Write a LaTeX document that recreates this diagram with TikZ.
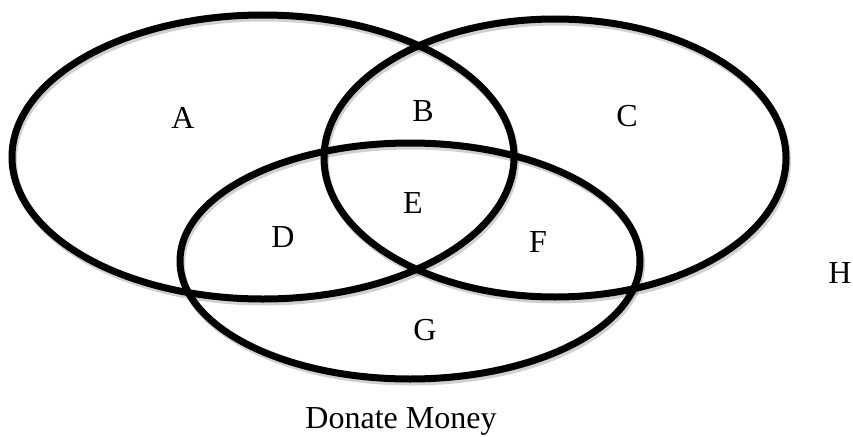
\documentclass[tikz,border=0pt]{standalone}
\usepackage{fontspec}
\setmainfont{Liberation Serif}
\begin{document}
\begin{tikzpicture}[x=1pt,y=-1pt,
  venn/.style={line width=7pt,draw=black},
  vshadow/.style={line width=7pt,draw=black,opacity=0.18},
  lbl/.style={font=\fontsize{32}{34}\selectfont,inner sep=0pt}]
\useasboundingbox (0,0) rectangle (853,436);
\foreach \cx/\cy/\rx/\ry in {263/157/251/142, 555/158/231/139, 410/261/230/118}{
  \draw[vshadow] (\cx+1.5,\cy+3) ellipse [x radius=\rx, y radius=\ry];
}
\draw[venn] (263,157) ellipse [x radius=251, y radius=142];
\draw[venn] (555,158) ellipse [x radius=231, y radius=139];
\draw[venn] (410,261) ellipse [x radius=230, y radius=118];
\node[lbl] (a) at (183,118) {A};
\node[lbl] (b) at (423,111) {B};
\node[lbl] (c) at (627,116) {C};
\node[lbl] (d) at (283,237) {D};
\node[lbl] (e) at (413,203) {E};
\node[lbl] (f) at (538,242) {F};
\node[lbl] (g) at (425,330) {G};
\node[lbl] (h) at (840,273) {H};
\node[lbl,anchor=base] (dm) at (401,428) {Donate Money};
\end{tikzpicture}
\end{document}
